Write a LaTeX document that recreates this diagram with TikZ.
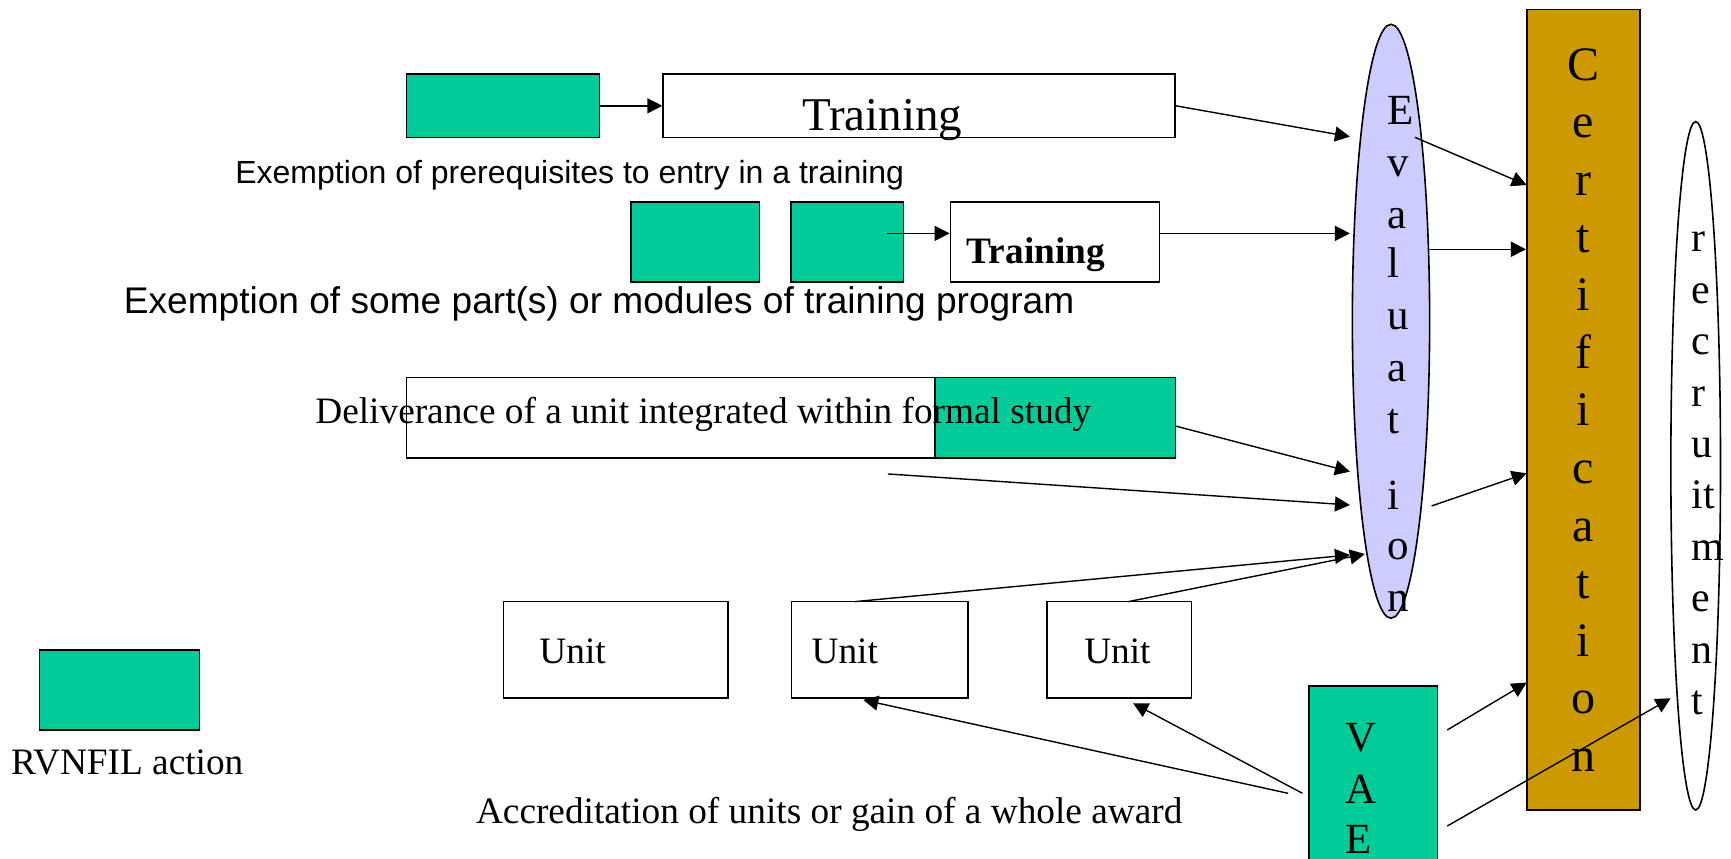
\documentclass[tikz,border=0pt]{standalone}
\usepackage{fontspec}
\setmainfont{Liberation Serif}
\setsansfont{Liberation Sans}
\usetikzlibrary{shapes.geometric,arrows.meta,fit}
\definecolor{rvgreen}{HTML}{00CC99}
\definecolor{evalblue}{HTML}{CCCCFF}
\definecolor{certgold}{HTML}{CC9900}
\begin{document}
\begin{tikzpicture}[x=1.104pt,y=-1.104pt,
  box/.style={draw=black, line width=1.6pt, inner sep=0pt},
  gbox/.style={box, fill=rvgreen},
  wbox/.style={box, fill=white},
  arr/.style={line width=1.4pt, -{Triangle[length=15pt,width=15pt]}},
  lbl/.style={inner sep=0pt, anchor=base west},
  lblc/.style={inner sep=0pt, anchor=base},
  serifL/.style={font=\fontsize{37.3}{40}\selectfont},
  sansL/.style={font=\sffamily\fontsize{37.1}{40}\selectfont},
  vtxt/.style={font=\fontsize{43}{46}\selectfont},
]
\useasboundingbox (0,0) rectangle (1568,778);
\fill[white] (0,0) rectangle (1568,778);

% ---- right-hand column shapes
\node[ellipse, draw=black, line width=1.6pt, fill=evalblue, minimum width=70*1.104pt, minimum height=538*1.104pt, inner sep=0pt] (eval) at (1260,291) {};
\node[box, fill=certgold, fit={(1383,8.5) (1485.5,733.7)}] (cert) {};
\node[ellipse, draw=black, line width=1.6pt, fill=white, minimum width=45*1.104pt, minimum height=623.7*1.104pt, inner sep=0pt] (recr) at (1536,421.9) {};
\node[gbox, fit={(1185.7,621.4) (1302,790)}] (vae) {};

\foreach \ch/\yy [count=\i] in {E/113.2, v/160.1, a/206.8, l/251.8, u/298.9, a/345.7, t/392.3, i/461.3, o/507.2, n/554}
  \node[lbl, vtxt] (evl\i) at (1256.5,\yy) {\ch};
\foreach \ch/\yy [count=\i] in {C/72.5, e/124.7, r/176.9, t/229.1, i/281.3, f/333.5, i/385.7, c/437.9, a/490.1, t/542.3, i/594.5, o/646.7, n/698.9}
  \node[lblc, font=\fontsize{48}{52}\selectfont] (cel\i) at (1434,\yy) {\ch};
\foreach \ch/\yy [count=\i] in {r/228, e/274.6, c/321.2, r/367.8, u/414.4, it/461, m/507.6, e/554.2, n/600.8, t/647.4}
  \node[lbl, font=\fontsize{42}{46}\selectfont] (rel\i) at (1532.3,\yy) {\ch};
\foreach \ch/\yy [count=\i] in {V/681, A/727.6, E/773}
  \node[lbl, vtxt] (vael\i) at (1218.3,\yy) {\ch};

% ---- row 1
\node[gbox, fit={(368.2,67) (543,124.7)}] (g1) {};
\node[wbox, fit={(600.7,67) (1064.5,124.7)}] (t1) {};
\node[lbl, font=\fontsize{47}{50}\selectfont] (t1txt) at (726.5,117.8) {Training};
\node[lbl, font=\sffamily\fontsize{32}{36}\selectfont] (ex1) at (213,166.5) {Exemption of prerequisites to entry in a training};

% ---- row 2
\node[gbox, fit={(571.6,183) (688,255.2)}] (gA) {};
\node[gbox, fit={(716.7,183) (818.4,255.2)}] (gB) {};
\node[wbox, fit={(860.9,183) (1050.4,255.2)}] (t2) {};
\node[lbl, font=\bfseries\fontsize{37.3}{40}\selectfont] (t2txt) at (875.5,238.5) {Training};
\node[lbl, sansL] (ex2) at (112,283.6) {Exemption of some part(s) or modules of training program};

% ---- row 3
\node[wbox, fit={(368.3,342.1) (846.8,414.6)}] (dW) {};
\node[gbox, fit={(846.8,342.1) (1064.8,414.6)}] (dG) {};
\node[lbl, serifL] (deltxt) at (285.5,383.6) {Deliverance of a unit integrated within formal study};

% ---- units
\node[wbox, fit={(456,545) (659.2,632.5)}] (u1) {};
\node[wbox, fit={(717,545) (876.6,632.5)}] (u2) {};
\node[wbox, fit={(948.4,545) (1079.4,632.5)}] (u3) {};
\node[lbl, serifL] (u1txt) at (488.5,600.8) {Unit};
\node[lbl, serifL] (u2txt) at (735,600.8) {Unit};
\node[lbl, serifL] (u3txt) at (982,600.8) {Unit};
\node[lbl, serifL] (acc) at (431,745.8) {Accreditation of units or gain of a whole award};

% ---- legend
\node[gbox, fit={(35.6,588.8) (180.8,661.2)}] (leg) {};
\node[lbl, serifL] (legtxt) at (10,702) {RVNFIL action};

% ---- connector end points
\coordinate (evin1) at (1222.8,123.8);
\coordinate (evin2) at (1222.8,211.4);
\coordinate (evin3) at (1222.8,427.2);
\coordinate (evin4) at (1222.8,457.4);
\coordinate (evin5) at (1222.8,502.7);
\coordinate (evin6) at (1236.4,501.8);
\coordinate (a2s) at (803.5,211.4);
\coordinate (d1s) at (1064.8,385.9);
\coordinate (d2s) at (804.2,429.3);
\coordinate (u2top) at (774,545);
\coordinate (u3top) at (1022,545);
\coordinate (u2bot) at (782,634);
\coordinate (u3bot) at (1026.4,637);
\coordinate (vaeA) at (1166.8,718.6);
\coordinate (vaeB) at (1179.8,718.6);
\coordinate (vaeC) at (1311,661.2);
\coordinate (vaeD) at (1311,748.2);
\coordinate (evo1) at (1281.7,124.4);
\coordinate (evo2) at (1295.3,225.8);
\coordinate (evo3) at (1296.8,458.3);
\coordinate (cin1) at (1382.9,167.6);
\coordinate (cin3) at (1382.9,428.7);
\coordinate (cin4) at (1382.9,618.3);
\coordinate (rin) at (1513.3,632.5);

% ---- connectors
\draw[arr] (g1.east) -- (t1.west);
\draw[arr] (t1.east) -- (evin1);
\draw[arr] (a2s) -- (a2s -| t2.west);
\draw[arr] (a2s -| t2.east) -- (evin2);
\draw[arr] (d1s) -- (evin3);
\draw[arr] (d2s) -- (evin4);
\draw[arr] (u2top) -- (evin5);
\draw[arr] (u3top) -- (evin6);
\draw[arr] (evo1) -- (cin1);
\draw[arr] (evo2) -- (evo2 -| cert.west);
\draw[arr] (evo3) -- (cin3);
\draw[arr] (vaeA) -- (u2bot);
\draw[arr] (vaeB) -- (u3bot);
\draw[arr] (vaeC) -- (cin4);
\draw[arr] (vaeD) -- (rin);
\end{tikzpicture}
\end{document}
